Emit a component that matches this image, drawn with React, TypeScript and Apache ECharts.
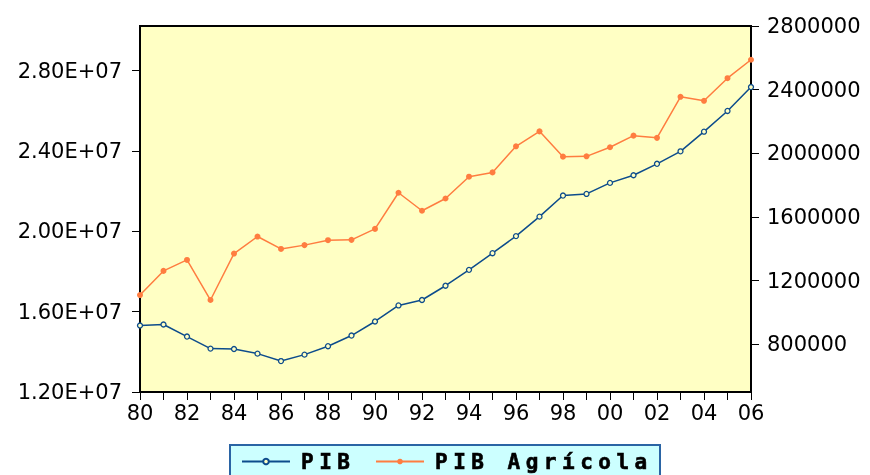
import React, { useEffect, useRef } from "react";
import * as echarts from "echarts";

const years = ["80","81","82","83","84","85","86","87","88","89","90","91","92","93","94","95","96","97","98","99","00","01","02","03","04","05","06"];
const pib = [15310000, 15360000, 14760000, 14160000, 14140000, 13910000, 13540000, 13860000, 14280000, 14810000, 15510000, 16310000, 16580000, 17290000, 18080000, 18910000, 19760000, 20730000, 21780000, 21860000, 22410000, 22790000, 23360000, 23980000, 24960000, 25990000, 27180000];
const pibAgricola = [1109000, 1261000, 1330000, 1078000, 1370000, 1477000, 1399000, 1423000, 1454000, 1456000, 1525000, 1752000, 1639000, 1716000, 1853000, 1880000, 2044000, 2138000, 1979000, 1981000, 2038000, 2111000, 2097000, 2355000, 2330000, 2472000, 2588000];
const leftTicks = [12000000, 16000000, 20000000, 24000000, 28000000];
const rightTicks = [800000, 1200000, 1600000, 2000000, 2400000, 2800000];
const seriesNames = ["PIB", "PIB Agrícola"];

const BLUE = "#0d4c8c";
const ORANGE = "#ff7d40";
const BG = "#ffffc4";

export default function App() {
  const ref = useRef<HTMLDivElement>(null);
  useEffect(() => {
    if (!ref.current) return;
    const chart = echarts.init(ref.current, null, { renderer: "svg" });
    const axisFont = { fontFamily: "DejaVu Sans", fontSize: 21, color: "#000" };
    const legendText = { fontFamily: "DejaVu Sans Mono", fontWeight: "bold" as const, fontSize: 21, color: "#000", padding: [0, 0, 0, 6] };
    chart.setOption({
      animation: false,
      grid: { left: 140, top: 26, right: 119, bottom: 83, show: true, backgroundColor: BG, borderColor: "#000", borderWidth: 2 },
      xAxis: {
        type: "category",
        data: years,
        boundaryGap: false,
        axisLine: { lineStyle: { color: "#000", width: 2 } },
        axisTick: { show: true, interval: 0, length: 8, lineStyle: { color: "#000", width: 1 } },
        axisLabel: { ...axisFont, interval: 1, margin: 10 },
        splitLine: { show: false },
      },
      yAxis: [
        {
          type: "value",
          min: 12000000,
          max: 30220000,
          position: "left",
          axisLine: { show: true, lineStyle: { color: "#000", width: 2 } },
          axisTick: { show: true, length: 8, customValues: leftTicks, lineStyle: { color: "#000" } },
          axisLabel: { ...axisFont, margin: 18, customValues: leftTicks, formatter: (v: number) => (v / 1e7).toFixed(2) + "E+07" },
          splitLine: { show: false },
        },
        {
          type: "value",
          min: 500000,
          max: 2800000,
          position: "right",
          axisLine: { show: true, lineStyle: { color: "#000", width: 2 } },
          axisTick: { show: true, length: 8, customValues: rightTicks, lineStyle: { color: "#000" } },
          axisLabel: { ...axisFont, margin: 16, customValues: rightTicks, formatter: (v: number) => String(Math.round(v)) },
          splitLine: { show: false },
        },
      ],
      graphic: [
        {
          type: "rect",
          z: 0,
          shape: { x: 230, y: 445, width: 430, height: 40 },
          style: { fill: "#ccffff", stroke: "#2a64a4", lineWidth: 2 },
        },
      ],
      legend: [
        {
          data: [seriesNames[0]],
          left: 236,
          top: 446,
          itemWidth: 48,
          itemHeight: 7,
          textStyle: legendText,
        },
        {
          data: [seriesNames[1]],
          left: 370,
          top: 446,
          itemWidth: 48,
          itemHeight: 7,
          textStyle: legendText,
        },
      ],
      series: [
        {
          name: seriesNames[0],
          type: "line",
          yAxisIndex: 0,
          data: pib,
          symbol: "circle",
          symbolSize: 5,
          showAllSymbol: true,
          lineStyle: { color: BLUE, width: 1.5 },
          itemStyle: { color: BG, borderColor: BLUE, borderWidth: 1.3 },
        },
        {
          name: seriesNames[1],
          type: "line",
          yAxisIndex: 1,
          data: pibAgricola,
          symbol: "circle",
          symbolSize: 6,
          showAllSymbol: true,
          lineStyle: { color: ORANGE, width: 1.5 },
          itemStyle: { color: ORANGE },
        },
      ],
    });
    const spaceLegend = () => {
      if (!ref.current) return;
      ref.current.querySelectorAll("text").forEach((t) => {
        const s = t.textContent || "";
        if (s === "PIB" || s === "PIB Agrícola") {
          const el = t as SVGTextElement;
          el.style.letterSpacing = "5.5px";
          el.style.stroke = "#000";
          el.style.strokeWidth = "0.6px";
        }
      });
    };
    spaceLegend();
    const raf = requestAnimationFrame(spaceLegend);
    const to = setTimeout(spaceLegend, 50);
    return () => {
      cancelAnimationFrame(raf);
      clearTimeout(to);
      chart.dispose();
    };
  }, []);
  return <div ref={ref} style={{ position: "fixed", left: 0, top: 0, width: 870, height: 475 }} />;
}
